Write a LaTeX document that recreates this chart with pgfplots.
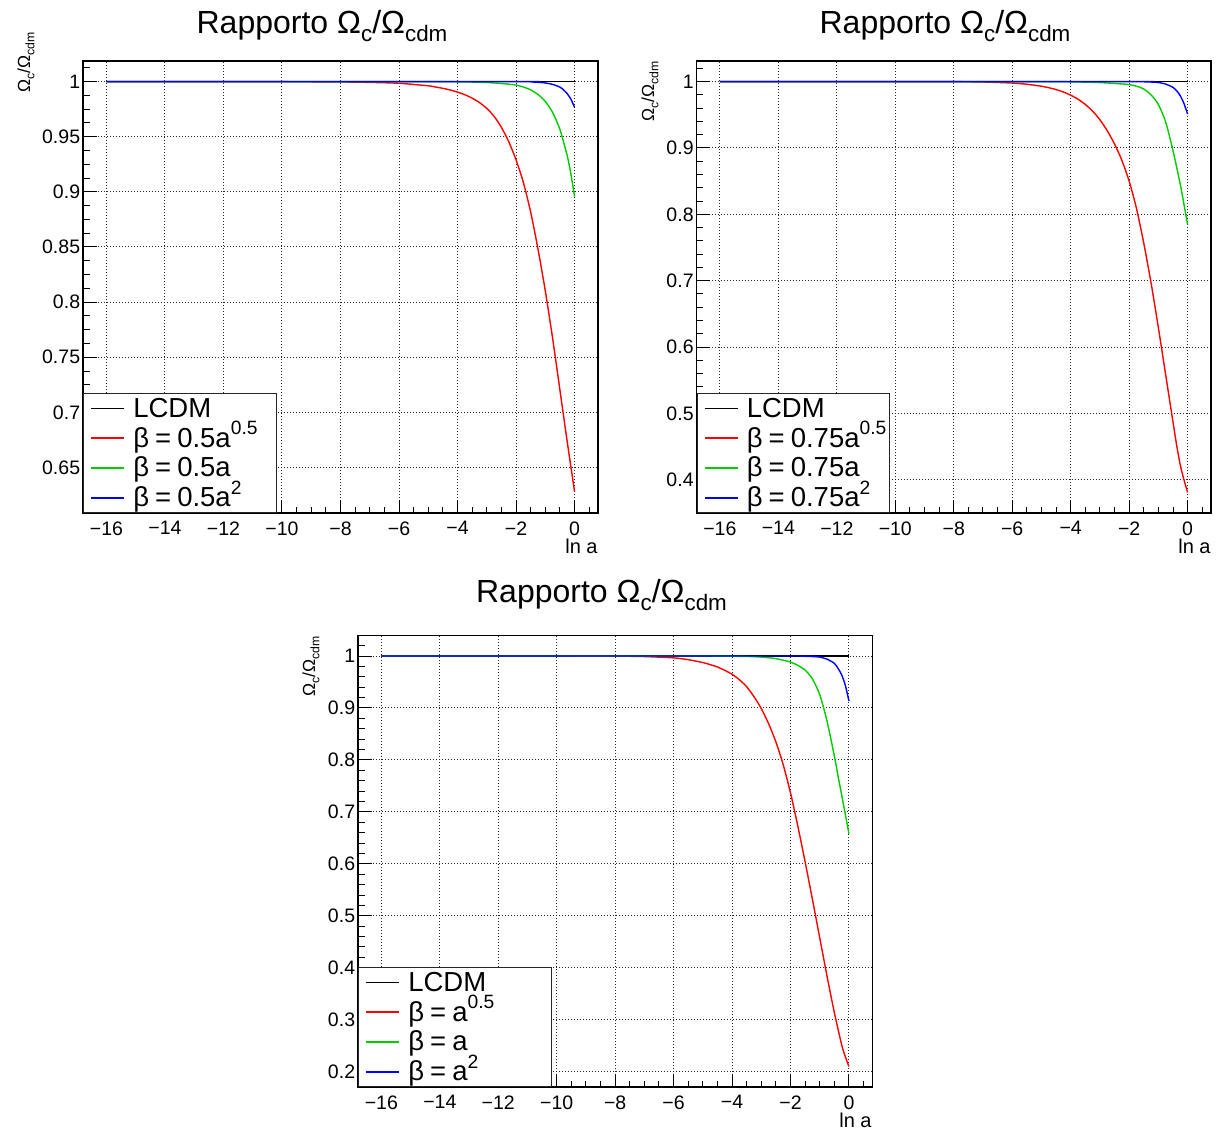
\documentclass[border=0pt]{standalone}
\usepackage{fontspec}
\setmainfont{Liberation Sans}
\usepackage{graphicx}
\usepackage{pgfplots}
\pgfplotsset{compat=1.18}
\definecolor{rootred}{RGB}{255,0,0}
\definecolor{rootgreen}{RGB}{0,205,0}
\definecolor{rootblue}{RGB}{0,0,255}
\newcommand{\sbs}[1]{\raisebox{-0.25em}{\scalebox{0.7}{#1}}}
\newcommand{\sps}[1]{\raisebox{0.45em}{\scalebox{0.7}{#1}}}
\newcommand{\ratio}{Ω\sbs{c}/Ω\sbs{cdm}}
\newcommand{\eq}{\hspace{0.22em}=\hspace{0.22em}}
\newcommand{\lentry}[1]{\makebox[68pt][l]{#1}}

\pgfplotsset{
  rootax/.style={
    scale only axis, anchor=north west,
    xmin=-16.8, xmax=0.8,
    xtick={-16,-14,-12,-10,-8,-6,-4,-2,0},
    xticklabels={−16,−14,−12,−10,−8,−6,−4,−2,0},
    minor xtick={-16.5,-16,...,0.5},
    tick pos=left, tick align=inside,
    major tick length=6.75pt, minor tick length=3.25pt,
    every tick/.style={black, line width=0.5pt},
    grid=major,
    major grid style={black!85, line width=0.5pt, dash pattern=on 0.5pt off 1pt},
    axis line style={black, line width=0.6pt},
    tick label style={font=\fontsize{9.75}{11}\selectfont},
    xticklabel style={inner ysep=4pt},
    yticklabel style={inner xsep=1.25pt},
    legend cell align=left,
    legend image code/.code={\draw[##1, line width=0.9pt] (0pt,0pt) -- (16.5pt,0pt);},
    legend style={at={(0,0)}, anchor=south west, draw=black!85, line width=0.5pt,
      fill=white, inner xsep=3.5pt, inner ysep=0pt, column sep=4pt, row sep=0pt,
      font=\fontsize{13.75}{15}\selectfont,
      nodes={inner sep=0pt, text height=11.86pt, text depth=3.01pt}},
  },
}

\begin{document}
\begin{tikzpicture}
\path[use as bounding box] (0,0) rectangle (610.5pt,-566pt);

% ---------------- Panel 1 ----------------
\begin{axis}[rootax, at={(41.5pt,-30.5pt)}, width=257.5pt, height=226pt,
  ymin=0.6087, ymax=1.0187,
  ytick={0.65,0.7,0.75,0.8,0.85,0.9,0.95,1},
  yticklabels={0.65,0.7,0.75,0.8,0.85,0.9,0.95,1},
  minor ytick={0.6125,0.625,0.6375,0.6625,0.675,0.6875,0.7125,0.725,0.7375,0.7625,0.775,0.7875,0.8125,0.825,0.8375,0.8625,0.875,0.8875,0.9125,0.925,0.9375,0.9625,0.975,0.9875,1.0125}]
\addplot[black, line width=0.6pt] coordinates {(-16,1) (0,1)};
\addlegendentry{\lentry{LCDM}}
\addplot[rootred, line width=0.7pt, smooth, tension=0.4] coordinates {(-16,1) (-12,1) (-10,0.99995) (-8,0.9997) (-7,0.9993) (-6,0.9985) (-5,0.9962) (-4.75,0.9951) (-4.5,0.9939) (-4.25,0.9924) (-4,0.9905) (-3.75,0.9881) (-3.5,0.985) (-3.25,0.981) (-3,0.9757) (-2.75,0.9685) (-2.5,0.9585) (-2.25,0.9455) (-2,0.929) (-1.75,0.9085) (-1.5,0.8815) (-1.25,0.848) (-1,0.810) (-0.75,0.767) (-0.5,0.720) (-0.25,0.673) (0,0.628)};
\addlegendentry{\lentry{β\eq 0.5a\sps{0.5}}}
\addplot[rootgreen, line width=0.7pt, smooth, tension=0.4] coordinates {(-16,1) (-5,1) (-4,0.9998) (-3.5,0.9996) (-3,0.9992) (-2.5,0.9983) (-2,0.9969) (-1.75,0.9951) (-1.5,0.9925) (-1.25,0.9883) (-1,0.982) (-0.75,0.972) (-0.5,0.9565) (-0.25,0.9326) (-0.125,0.916) (0,0.8956)};
\addlegendentry{\lentry{β\eq 0.5a}}
\addplot[rootblue, line width=0.7pt, smooth, tension=0.4] coordinates {(-16,1) (-2,1) (-1.5,0.9997) (-1.25,0.9994) (-1,0.9988) (-0.75,0.9975) (-0.5,0.995) (-0.375,0.9925) (-0.25,0.989) (-0.125,0.984) (0,0.9766)};
\addlegendentry{\lentry{β\eq 0.5a\sps{2}}}
\end{axis}

% ---------------- Panel 2 ----------------
\begin{axis}[rootax, at={(348.25pt,-30.5pt)}, width=257.25pt, height=226pt,
  ymin=0.350, ymax=1.031,
  ytick={0.4,0.5,0.6,0.7,0.8,0.9,1},
  yticklabels={0.4,0.5,0.6,0.7,0.8,0.9,1},
  minor ytick={0.36,0.38,0.42,0.44,0.46,0.48,0.52,0.54,0.56,0.58,0.62,0.64,0.66,0.68,0.72,0.74,0.76,0.78,0.82,0.84,0.86,0.88,0.92,0.94,0.96,0.98,1.02}]
\addplot[black, line width=0.6pt] coordinates {(-16,1) (0,1)};
\addlegendentry{\lentry{LCDM}}
\addplot[rootred, line width=0.7pt, smooth, tension=0.4] coordinates {(-16,1) (-10,1) (-8,0.9999) (-7,0.9994) (-6,0.9978) (-5.5,0.996) (-5,0.993) (-4.75,0.9908) (-4.5,0.988) (-4.25,0.9843) (-4,0.9795) (-3.75,0.9735) (-3.5,0.9655) (-3.25,0.9555) (-3,0.9425) (-2.75,0.926) (-2.5,0.906) (-2.25,0.8815) (-2,0.850) (-1.75,0.809) (-1.5,0.7565) (-1.25,0.6965) (-1,0.629) (-0.75,0.558) (-0.5,0.487) (-0.375,0.452) (-0.25,0.422) (-0.125,0.400) (0,0.381)};
\addlegendentry{\lentry{β\eq 0.75a\sps{0.5}}}
\addplot[rootgreen, line width=0.7pt, smooth, tension=0.4] coordinates {(-16,1) (-5,1) (-4,0.9995) (-3.5,0.9992) (-3,0.9985) (-2.5,0.9972) (-2,0.9955) (-1.75,0.993) (-1.5,0.9888) (-1.25,0.980) (-1,0.9655) (-0.75,0.939) (-0.5,0.896) (-0.25,0.845) (-0.125,0.815) (0,0.7845)};
\addlegendentry{\lentry{β\eq 0.75a}}
\addplot[rootblue, line width=0.7pt, smooth, tension=0.4] coordinates {(-16,1) (-2,1) (-1.5,0.9997) (-1.25,0.9993) (-1,0.9986) (-0.75,0.9962) (-0.5,0.9912) (-0.375,0.9862) (-0.25,0.9785) (-0.125,0.967) (0,0.951)};
\addlegendentry{\lentry{β\eq 0.75a\sps{2}}}
\end{axis}

% ---------------- Panel 3 ----------------
\begin{axis}[rootax, at={(179pt,-317.75pt)}, width=257.15pt, height=225.75pt,
  ymin=0.1705, ymax=1.0395,
  ytick={0.2,0.3,0.4,0.5,0.6,0.7,0.8,0.9,1},
  yticklabels={0.2,0.3,0.4,0.5,0.6,0.7,0.8,0.9,1},
  minor ytick={0.18,0.22,0.24,0.26,0.28,0.32,0.34,0.36,0.38,0.42,0.44,0.46,0.48,0.52,0.54,0.56,0.58,0.62,0.64,0.66,0.68,0.72,0.74,0.76,0.78,0.82,0.84,0.86,0.88,0.92,0.94,0.96,0.98,1.02}]
\addplot[black, line width=0.6pt] coordinates {(-16,1) (0,1)};
\addlegendentry{\lentry{LCDM}}
\addplot[rootred, line width=0.7pt, smooth, tension=0.4] coordinates {(-16,1) (-10,1) (-8,0.9998) (-7,0.999) (-6,0.9965) (-5.5,0.993) (-5,0.9875) (-4.75,0.9835) (-4.5,0.979) (-4.25,0.9725) (-4,0.965) (-3.75,0.9545) (-3.5,0.941) (-3.25,0.922) (-3,0.899) (-2.75,0.870) (-2.5,0.835) (-2.25,0.791) (-2,0.737) (-1.75,0.673) (-1.5,0.604) (-1.25,0.532) (-1,0.458) (-0.75,0.384) (-0.5,0.314) (-0.25,0.252) (-0.125,0.229) (0,0.21)};
\addlegendentry{\lentry{β\eq a\sps{0.5}}}
\addplot[rootgreen, line width=0.7pt, smooth, tension=0.4] coordinates {(-16,1) (-5,1) (-4,0.9996) (-3.5,0.9992) (-3,0.998) (-2.5,0.995) (-2,0.9885) (-1.75,0.982) (-1.5,0.973) (-1.25,0.956) (-1,0.926) (-0.75,0.875) (-0.5,0.808) (-0.375,0.770) (-0.25,0.733) (-0.125,0.696) (0,0.658)};
\addlegendentry{\lentry{β\eq a}}
\addplot[rootblue, line width=0.7pt, smooth, tension=0.4] coordinates {(-16,1) (-2,1) (-1.5,0.9995) (-1.25,0.999) (-1,0.998) (-0.75,0.994) (-0.5,0.986) (-0.375,0.9765) (-0.25,0.964) (-0.125,0.944) (0,0.9137)};
\addlegendentry{\lentry{β\eq a\sps{2}}}
\end{axis}

% ---------------- Titles and labels ----------------
\node[font=\fontsize{16}{19}\selectfont, anchor=base, inner sep=0pt] at (161pt,-16.75pt) {Rapporto \ratio};
\node[font=\fontsize{16}{19}\selectfont, anchor=base, inner sep=0pt] at (472.5pt,-16.75pt) {Rapporto \ratio};
\node[font=\fontsize{16}{19}\selectfont, anchor=base, inner sep=0pt] at (300.75pt,-301.25pt) {Rapporto \ratio};

\node[font=\fontsize{8.75}{10}\selectfont, rotate=90, anchor=base west, inner sep=0pt] at (15pt,-46.5pt) {\ratio};
\node[font=\fontsize{8.75}{10}\selectfont, rotate=90, anchor=base west, inner sep=0pt] at (327pt,-61pt) {\ratio};
\node[font=\fontsize{8.75}{10}\selectfont, rotate=90, anchor=base west, inner sep=0pt] at (157.5pt,-348.5pt) {\ratio};

\node[font=\fontsize{10}{12}\selectfont, anchor=base east, inner sep=0pt] at (299pt,-276.5pt) {ln a};
\node[font=\fontsize{10}{12}\selectfont, anchor=base east, inner sep=0pt] at (605.5pt,-276.5pt) {ln a};
\node[font=\fontsize{10}{12}\selectfont, anchor=base east, inner sep=0pt] at (436pt,-563.5pt) {ln a};
\end{tikzpicture}
\end{document}
